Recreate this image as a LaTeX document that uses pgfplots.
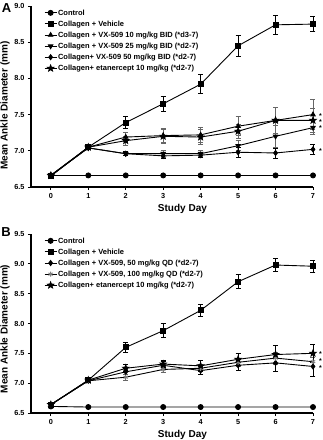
\documentclass[border=0pt]{standalone}
\usepackage{fontspec}
\setmainfont{Liberation Sans}
\usepackage{pgfplots}
\pgfplotsset{compat=1.18}

\pgfdeclareplotmark{fstar}{%
  \pgfpathmoveto{\pgfpointpolar{90}{1.3\pgfplotmarksize}}%
  \pgfpathlineto{\pgfpointpolar{126}{0.55\pgfplotmarksize}}%
  \pgfpathlineto{\pgfpointpolar{162}{1.3\pgfplotmarksize}}%
  \pgfpathlineto{\pgfpointpolar{198}{0.55\pgfplotmarksize}}%
  \pgfpathlineto{\pgfpointpolar{234}{1.3\pgfplotmarksize}}%
  \pgfpathlineto{\pgfpointpolar{270}{0.55\pgfplotmarksize}}%
  \pgfpathlineto{\pgfpointpolar{306}{1.3\pgfplotmarksize}}%
  \pgfpathlineto{\pgfpointpolar{342}{0.55\pgfplotmarksize}}%
  \pgfpathlineto{\pgfpointpolar{18}{1.3\pgfplotmarksize}}%
  \pgfpathlineto{\pgfpointpolar{54}{0.55\pgfplotmarksize}}%
  \pgfpathclose
  \pgfusepathqfillstroke
}

\tikzset{sigstar/.style={font=\fontsize{7}{8}\selectfont\bfseries, inner sep=0pt, anchor=center}}

\pgfplotsset{
 panel/.style={
  scale only axis, width=282pt, xmin=-0.53, xmax=7,
  axis lines=left, axis line style={-, line width=1.1pt},
  xtick={0,1,2,3,4,5,6,7},
  tick style={black, line width=0.9pt}, tick align=outside, major tick length=3pt,
  tick label style={font=\fontsize{7.3}{8}\selectfont\bfseries},
  /pgf/number format/assume math mode=true,
  y tick label style={/pgf/number format/.cd, fixed, fixed zerofill, precision=1},
  xlabel={Study Day}, ylabel={Mean Ankle Diameter (mm)},
  label style={font=\fontsize{10}{11}\selectfont\bfseries},
  xlabel style={at={(axis description cs:0.537,0)}, anchor=center, yshift=-22pt},
  clip=false,
  legend cell align=left,
  legend image code/.code={\draw[mark repeat=2,mark phase=2,##1] plot coordinates {(0pt,0pt) (6pt,0pt) (12pt,0pt)};},
  legend style={draw=none, fill=none, anchor=north west, inner sep=0pt,
    font=\fontsize{7.5}{8}\selectfont\bfseries, row sep=0pt,
    nodes={inner sep=1pt, text height=7pt, text depth=2.1pt}},
  every axis plot/.append style={line width=0.9pt, black, mark size=2.5pt},
  error bars/error bar style={line width=0.8pt},
  error bars/error mark options={rotate=90, mark size=2.5pt, line width=0.8pt},
 },
 eb/.style={error bars/y dir=both, error bars/y explicit},
 gb/.style={error bars/error bar style={black!60, line width=0.8pt}, error bars/error mark options={black!60, rotate=90, mark size=2.5pt, line width=0.8pt}},
}

\begin{document}
\begin{tikzpicture}
\useasboundingbox (0pt,0pt) rectangle (323pt,440pt);

\node[font=\fontsize{13}{13}\selectfont\bfseries] at (6.5pt,431.5pt) {A};
\node[font=\fontsize{13}{13}\selectfont\bfseries] at (6pt,208.3pt) {B};

% ---------------- Panel A ----------------
\begin{axis}[panel, at={(31pt,253pt)}, anchor=south west, height=181pt,
  ymin=6.5, ymax=9.0, ytick={6.5,7.0,7.5,8.0,8.5,9.0},
  ylabel style={at={(axis description cs:-0.092,0.45)}, anchor=center},
  legend style={at={(axis description cs:0.046,0.994)}}]
\addplot[mark=*] coordinates {(0,6.66) (1,6.66) (2,6.66) (3,6.66) (4,6.66) (5,6.66) (6,6.66) (7,6.66)};
\addlegendentry{Control}
\addplot[mark=square*, eb] coordinates {(0,6.65) +- (0,0.02) (1,7.05) +- (0,0.03) (2,7.39) +- (0,0.08) (3,7.65) +- (0,0.10) (4,7.92) +- (0,0.13) (5,8.45) +- (0,0.14) (6,8.74) +- (0,0.13) (7,8.75) +- (0,0.10)};
\addlegendentry{Collagen + Vehicle}
\addplot[mark=triangle*, eb, gb] coordinates {(0,6.66) +- (0,0.02) (1,7.05) +- (0,0.02) (2,7.19) +- (0,0.06) (3,7.21) +- (0,0.10) (4,7.22) +- (0,0.11) (5,7.34) +- (0,0.13) (6,7.42) +- (0,0.18) (7,7.50) +- (0,0.21)};
\addlegendentry{Collagen + VX-509 10 mg/kg BID (*d3-7)}
\addplot[mark=triangle*, mark options={rotate=180}, eb, gb] coordinates {(0,6.66) +- (0,0.02) (1,7.04) +- (0,0.02) (2,6.96) +- (0,0.03) (3,6.96) +- (0,0.05) (4,6.96) +- (0,0.04) (5,7.07) +- (0,0.07) (6,7.20) +- (0,0.15) (7,7.32) +- (0,0.10)};
\addlegendentry{Collagen + VX-509 25 mg/kg BID (*d2-7)}
\addplot[mark=diamond*, eb] coordinates {(0,6.66) +- (0,0.02) (1,7.04) +- (0,0.02) (2,6.96) +- (0,0.03) (3,6.93) +- (0,0.04) (4,6.94) +- (0,0.03) (5,6.98) +- (0,0.07) (6,6.97) +- (0,0.07) (7,7.02) +- (0,0.07)};
\addlegendentry{Collagen+ VX-509 50 mg/kg BID (*d2-7)}
\addplot[mark=fstar, mark options={fill=black}, eb, gb] coordinates {(0,6.66) +- (0,0.02) (1,7.05) +- (0,0.02) (2,7.14) +- (0,0.06) (3,7.20) +- (0,0.10) (4,7.19) +- (0,0.10) (5,7.27) +- (0,0.10) (6,7.42) +- (0,0.18) (7,7.42) +- (0,0.17)};
\addlegendentry{Collagen+ etanercept 10 mg/kg (*d2-7)}
\node[sigstar] at (axis cs:7.2,7.48) {*};
\node[sigstar] at (axis cs:7.2,7.40) {*};
\node[sigstar] at (axis cs:7.2,7.31) {*};
\node[sigstar] at (axis cs:7.2,7.00) {*};
\end{axis}

% ---------------- Panel B ----------------
\begin{axis}[panel, at={(31pt,27pt)}, anchor=south west, height=179pt,
  ymin=6.5, ymax=9.5, ytick={6.5,7.0,7.5,8.0,8.5,9.0,9.5},
  ylabel style={at={(axis description cs:-0.092,0.47)}, anchor=center},
  legend style={at={(axis description cs:0.046,0.994)}}]
\addplot[mark=*] coordinates {(0,6.61) (1,6.60) (2,6.60) (3,6.60) (4,6.60) (5,6.60) (6,6.60) (7,6.60)};
\addlegendentry{Control}
\addplot[mark=square*, eb] coordinates {(0,6.64) +- (0,0.02) (1,7.05) +- (0,0.03) (2,7.60) +- (0,0.08) (3,7.88) +- (0,0.12) (4,8.22) +- (0,0.10) (5,8.70) +- (0,0.12) (6,8.98) +- (0,0.11) (7,8.96) +- (0,0.10)};
\addlegendentry{Collagen + Vehicle}
\addplot[mark=diamond*, eb] coordinates {(0,6.64) +- (0,0.02) (1,7.04) +- (0,0.02) (2,7.19) +- (0,0.05) (3,7.30) +- (0,0.06) (4,7.21) +- (0,0.07) (5,7.30) +- (0,0.09) (6,7.34) +- (0,0.15) (7,7.28) +- (0,0.16)};
\addlegendentry{Collagen + VX-509, 50 mg/kg QD (*d2-7)}
\addplot[mark=asterisk, mark options={black!50, line width=0.9pt}, eb, gb] coordinates {(0,6.64) +- (0,0.02) (1,7.04) +- (0,0.02) (2,7.10) +- (0,0.05) (3,7.23) +- (0,0.05) (4,7.25) +- (0,0.06) (5,7.35) +- (0,0.07) (6,7.42) +- (0,0.10) (7,7.36) +- (0,0.08)};
\addlegendentry{Collagen + VX-509, 100 mg/kg QD (*d2-7)}
\addplot[mark=fstar, mark options={fill=black}, eb] coordinates {(0,6.64) +- (0,0.02) (1,7.05) +- (0,0.02) (2,7.25) +- (0,0.06) (3,7.32) +- (0,0.06) (4,7.29) +- (0,0.09) (5,7.40) +- (0,0.10) (6,7.48) +- (0,0.15) (7,7.50) +- (0,0.15)};
\addlegendentry{Collagen+ etanercept 10 mg/kg (*d2-7)}
\node[sigstar] at (axis cs:7.2,7.49) {*};
\node[sigstar] at (axis cs:7.2,7.37) {*};
\node[sigstar] at (axis cs:7.2,7.26) {*};
\end{axis}
\end{tikzpicture}
\end{document}
